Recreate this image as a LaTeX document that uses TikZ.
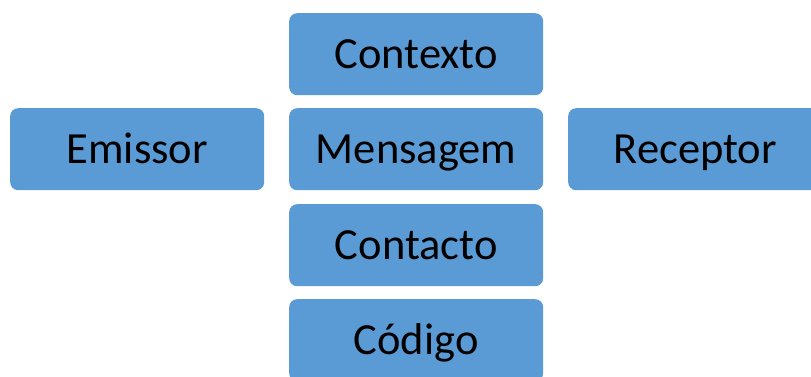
\documentclass[tikz,border=0pt]{standalone}
\usepackage{fontspec}
\setmainfont{Carlito}
\definecolor{boxblue}{HTML}{5B9BD5}
\begin{document}
\begin{tikzpicture}[x=1pt,y=-1pt,
  blk/.style={fill=boxblue, draw=none, rounded corners=8pt, minimum width=254pt, minimum height=82pt, inner sep=0pt, text height=28.5pt, text depth=0pt, anchor=north west, font=\fontsize{44.5}{50}\selectfont, text=black}]
\useasboundingbox (0,0) rectangle (811,377);
\node[blk] (contexto) at (289,13) {Contexto};
\node[blk] (emissor) at (10,108) {Emissor};
\node[blk] (mensagem) at (289,108) {Mensagem};
\node[blk] (receptor) at (568,108) {Receptor};
\node[blk] (contacto) at (289,204) {Contacto};
\node[blk] (codigo) at (289,299) {Código};
\end{tikzpicture}
\end{document}
